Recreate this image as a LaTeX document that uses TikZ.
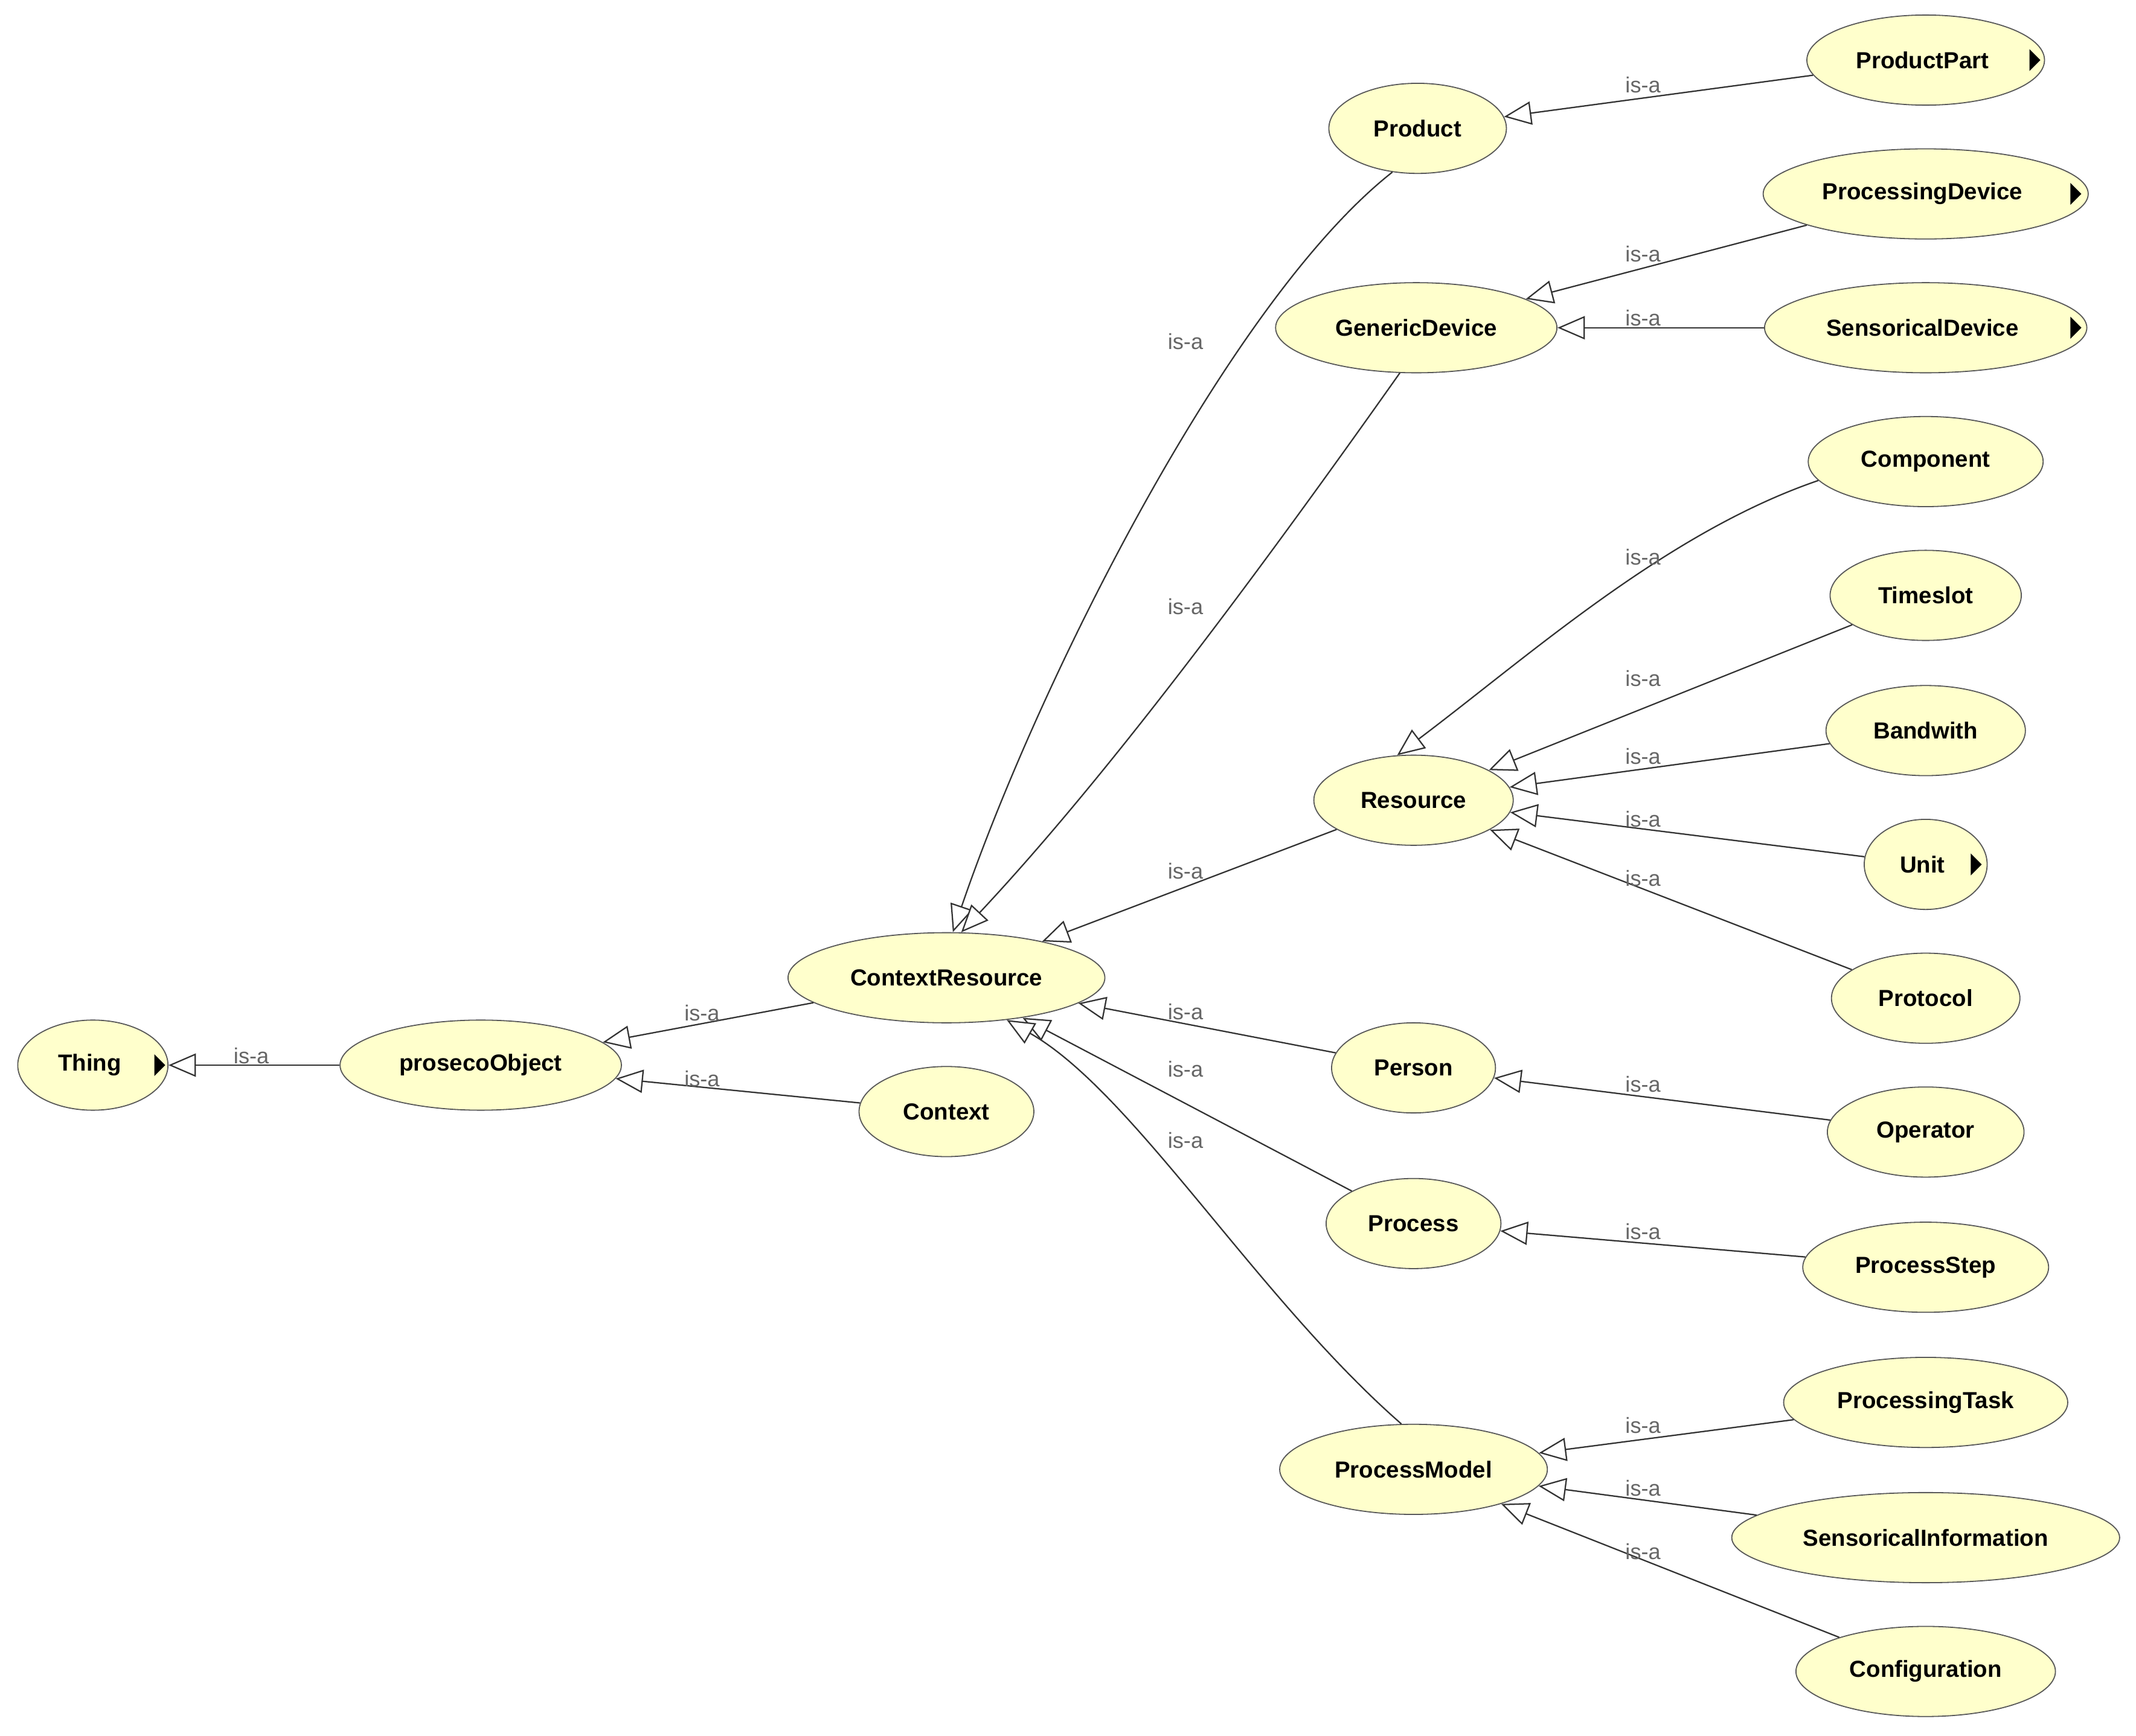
\documentclass[tikz,border=0pt]{standalone}
\usepackage{fontspec}
\setmainfont{Liberation Sans}
\usetikzlibrary{arrows.meta,shapes.geometric}
\begin{document}
\begin{tikzpicture}[x=1pt,y=-1pt,
 cls/.style={ellipse,draw=gray!70!black,fill={rgb,255:red,255;green,255;blue,204},minimum height=66pt,inner sep=0pt,font=\fontsize{17}{19}\selectfont\bfseries,line width=0.8pt},
 isa/.style={draw=gray!40!black,line width=1pt,-{Triangle[open,length=20pt,width=17pt,fill=white]}},
 lbl/.style={font=\fontsize{16}{18}\selectfont,text=gray!80!black,inner sep=0pt},
 blackmark/.style={fill=black}]
\useasboundingbox (0,0) rectangle (1564,1271);
\fill[white] (0,0) rectangle (1564,1271);
\node[cls,minimum width=110pt] (thing) at (68,780) {Thing\ \ };
\node[cls,minimum width=206pt] (proseco) at (352,780) {prosecoObject};
\node[cls,minimum width=232pt] (cr) at (693,716) {ContextResource};
\node[cls,minimum width=128pt] (context) at (693,814) {Context};
\node[cls,minimum width=130pt] (product) at (1038,94) {Product};
\node[cls,minimum width=206pt] (gd) at (1037,240) {GenericDevice};
\node[cls,minimum width=174pt] (pp) at (1410,44) {ProductPart\ \ };
\node[cls,minimum width=238pt] (pd) at (1410,142) {ProcessingDevice\ \ };
\node[cls,minimum width=236pt] (sd) at (1410,240) {SensoricalDevice\ \ };
\node[cls,minimum width=172pt] (comp) at (1410,338) {Component};
\node[cls,minimum width=140pt] (ts) at (1410,436) {Timeslot};
\node[cls,minimum width=146pt] (bw) at (1410,535) {Bandwith};
\node[cls,minimum width=90pt] (unit) at (1410,633) {Unit\ \ };
\node[cls,minimum width=138pt] (proto) at (1410,731) {Protocol};
\node[cls,minimum width=146pt] (res) at (1035,586) {Resource};
\node[cls,minimum width=120pt] (person) at (1035,782) {Person};
\node[cls,minimum width=144pt] (op) at (1410,829) {Operator};
\node[cls,minimum width=128pt] (proc) at (1035,896) {Process};
\node[cls,minimum width=180pt] (ps) at (1410,928) {ProcessStep};
\node[cls,minimum width=196pt] (pm) at (1035,1076) {ProcessModel};
\node[cls,minimum width=208pt] (pt) at (1410,1027) {ProcessingTask};
\node[cls,minimum width=284pt] (si) at (1410,1126) {SensoricalInformation};
\node[cls,minimum width=190pt] (conf) at (1410,1224) {Configuration};
% markers
\foreach \x/\y in {113/780,1486/44,1516/142,1516/240,1443/633}
  \fill[blackmark] (\x,\y-8) -- (\x+8,\y) -- (\x,\y+8) -- cycle;
% edges
\draw[isa] (proseco) -- (thing);
\draw[isa] (cr) -- (proseco);
\draw[isa] (context) -- (proseco);
\draw[isa] (product.240) .. controls (900,220) and (760,500) .. (cr.82);
\draw[isa] (gd.250) .. controls (900,450) and (800,580) .. (cr.72);
\draw[isa] (res) -- (cr);
\draw[isa] (person) -- (cr);
\draw[isa] (proc) -- (cr);
\draw[isa] (pm.105) .. controls (920,950) and (830,800) .. (cr.-35);
\draw[isa] (pp) -- (product);
\draw[isa] (pd) -- (gd);
\draw[isa] (sd) -- (gd);
\draw[isa] (comp.190) .. controls (1220,390) and (1120,480) .. (res.110);
\draw[isa] (ts) -- (res);
\draw[isa] (bw) -- (res);
\draw[isa] (unit) -- (res);
\draw[isa] (proto) -- (res);
\draw[isa] (op) -- (person);
\draw[isa] (ps) -- (proc);
\draw[isa] (pt) -- (pm);
\draw[isa] (si) -- (pm);
\draw[isa] (conf) -- (pm);
% labels
\foreach \n/\x/\y in {l1/184/773,l2/514/742,l3/514/790,l4/868/250,l5/868/444,l6/868/638,l7/868/741,l8/868/783,l9/868/835,
 l10/1203/62,l11/1203/186,l12/1203/233,l13/1203/408,l14/1203/497,l15/1203/554,l16/1203/600,l17/1203/643,
 l18/1203/794,l19/1203/902,l20/1203/1044,l21/1203/1090,l22/1203/1136}
  \node[lbl] (\n) at (\x,\y) {is-a};
\end{tikzpicture}
\end{document}
